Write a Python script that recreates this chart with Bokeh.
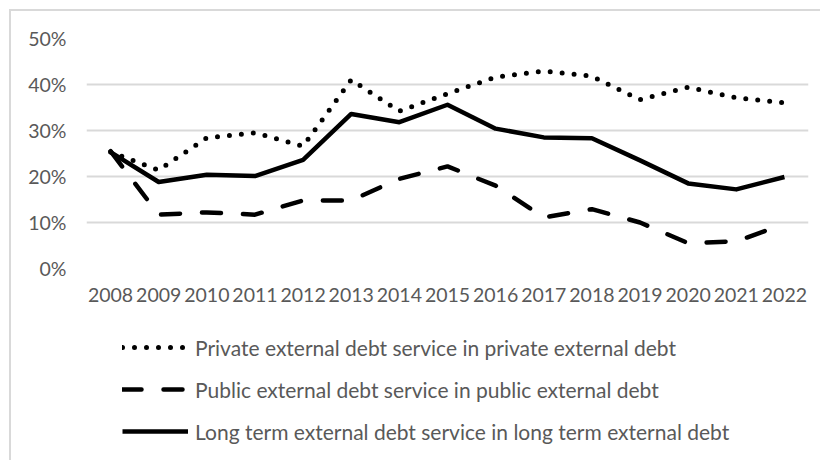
from bokeh.plotting import figure
from bokeh.layouts import column
from bokeh.models import Range1d, FixedTicker, NumeralTickFormatter, Legend, LegendItem
from bokeh.embed import file_html
from bokeh.resources import INLINE

years = list(range(2008, 2023))
private_share = [0.253, 0.214, 0.284, 0.295, 0.266, 0.410, 0.342, 0.380, 0.416, 0.429, 0.418, 0.367, 0.394, 0.371, 0.360]
public_share = [0.255, 0.117, 0.122, 0.117, 0.148, 0.148, 0.195, 0.222, 0.180, 0.111, 0.129, 0.100, 0.055, 0.059, 0.097]
longterm_share = [0.253, 0.188, 0.204, 0.201, 0.236, 0.336, 0.318, 0.356, 0.304, 0.285, 0.283, 0.235, 0.185, 0.172, 0.199]
y_ticks = [0, 0.1, 0.2, 0.3, 0.4, 0.5]
labels = [
    "Private external debt service in private external debt",
    "Public external debt service in public external debt",
    "Long term external debt service in long term external debt",
]

FONT = "Lato"
GREY = "#595959"
STYLES = [
    dict(line_color="black", line_width=5, line_dash="0 12", line_cap="round"),
    dict(line_color="black", line_width=4.5, line_dash="19 22", line_cap="round"),
    dict(line_color="black", line_width=4.5, line_join="round"),
]

p = figure(width=809, height=307, x_range=Range1d(2007.5, 2022.5), y_range=Range1d(0, 0.5),
           min_border_left=75, min_border_right=12, min_border_top=27, min_border_bottom=50,
           output_backend="svg", toolbar_location=None)
p.outline_line_color = None
p.background_fill_color = "white"
p.border_fill_color = "white"

p.xgrid.grid_line_color = None
p.ygrid.grid_line_color = "#d9d9d9"
p.ygrid.grid_line_width = 2

p.yaxis.ticker = FixedTicker(ticks=y_ticks)
p.yaxis.formatter = NumeralTickFormatter(format="0%")
p.xaxis.ticker = FixedTicker(ticks=years)
for ax in (p.xaxis, p.yaxis):
    ax.axis_line_color = None
    ax.major_tick_line_color = None
    ax.minor_tick_line_color = None
    ax.major_tick_out = 0
    ax.major_tick_in = 0
    ax.minor_tick_out = 0
    ax.major_label_text_font = FONT
    ax.major_label_text_font_size = "19.5px"
    ax.major_label_text_color = GREY
p.yaxis.major_label_standoff = 20
p.xaxis.major_label_standoff = 19

for ys, st in zip([private_share, public_share, longterm_share], STYLES):
    p.line(years, ys, **st)

# legend panel below the chart (key lines lie outside its visible range)
q = figure(width=809, height=142, x_range=Range1d(0, 1), y_range=Range1d(0, 1),
           min_border=0, x_axis_location=None, y_axis_location=None,
           output_backend="svg", toolbar_location=None)
q.outline_line_color = None
q.grid.grid_line_color = None
q.border_fill_color = "white"
keys = [q.line([-5, -4], [-5, -4], **st) for st in STYLES]
legend = Legend(items=[LegendItem(label=lab, renderers=[r]) for lab, r in zip(labels, keys)],
                location=(36, 16), orientation="vertical",
                glyph_width=66, glyph_height=26, label_height=26, spacing=16,
                label_standoff=7, padding=0, margin=0,
                border_line_color=None, background_fill_alpha=0,
                label_text_font=FONT, label_text_font_size="21px", label_text_color=GREY)
q.add_layout(legend, "center")

layout = column(p, q, spacing=0,
                styles={"border-left": "2px solid #d9d9d9", "border-top": "2px solid #d9d9d9",
                        "margin-left": "9px", "margin-top": "9px"})

open("out.html", "w").write(file_html(layout, INLINE))
